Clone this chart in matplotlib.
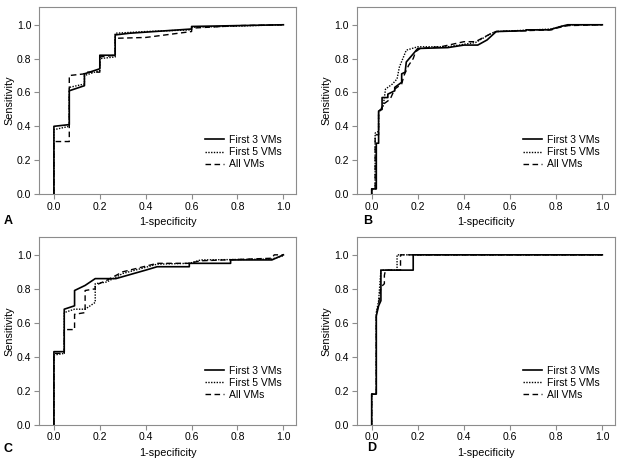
import numpy as np
import matplotlib
matplotlib.use("Agg")
import matplotlib.pyplot as plt

plt.rcParams['font.family'] = ['Liberation Sans', 'DejaVu Sans']

labels = ['First 3 VMs', 'First 5 VMs', 'All VMs']
panel_names = ['A', 'B', 'C', 'D']
xticks = [0.0, 0.2, 0.4, 0.6, 0.8, 1.0]
yticks = [0.0, 0.2, 0.4, 0.6, 0.8, 1.0]

# panel A  (1-specificity, sensitivity)
a3_x = [0, 0, 0.067, 0.067, 0.133, 0.133, 0.2, 0.2, 0.267, 0.267, 0.33, 0.6, 0.6, 0.8, 1]
a3_y = [0, 0.40, 0.41, 0.61, 0.64, 0.71, 0.74, 0.82, 0.82, 0.94, 0.95, 0.975, 0.99, 0.995, 1]
a5_x = [0, 0, 0.067, 0.067, 0.133, 0.133, 0.2, 0.2, 0.267, 0.267, 0.4, 0.6, 0.6, 1]
a5_y = [0, 0.38, 0.40, 0.63, 0.65, 0.70, 0.73, 0.80, 0.81, 0.95, 0.96, 0.97, 0.985, 1]
aa_x = [0, 0, 0.067, 0.067, 0.133, 0.133, 0.2, 0.2, 0.267, 0.267, 0.4, 0.6, 0.6, 0.8, 1]
aa_y = [0, 0.31, 0.31, 0.70, 0.71, 0.72, 0.72, 0.81, 0.82, 0.92, 0.925, 0.96, 0.98, 0.995, 1]

# panel B
b3_x = [0, 0, 0.02, 0.02, 0.03, 0.03, 0.045, 0.045, 0.07, 0.07, 0.1, 0.1, 0.13, 0.13, 0.145, 0.15,
        0.2, 0.33, 0.4, 0.46, 0.5, 0.54, 0.67, 0.67, 0.77, 0.82, 0.85, 1]
b3_y = [0, 0.03, 0.03, 0.30, 0.30, 0.49, 0.50, 0.57, 0.57, 0.59, 0.61, 0.63, 0.66, 0.71, 0.72, 0.78,
        0.86, 0.865, 0.88, 0.88, 0.91, 0.96, 0.965, 0.97, 0.97, 0.99, 1.0, 1]
b5_x = [0, 0, 0.015, 0.015, 0.03, 0.03, 0.05, 0.06, 0.09, 0.11, 0.12, 0.15, 0.2, 0.33, 0.45, 0.52,
        0.54, 0.78, 0.82, 0.87, 1]
b5_y = [0, 0.03, 0.03, 0.36, 0.37, 0.48, 0.52, 0.62, 0.65, 0.68, 0.75, 0.85, 0.87, 0.87, 0.895, 0.95,
        0.96, 0.975, 0.99, 1.0, 1]
ba_x = [0, 0, 0.015, 0.015, 0.03, 0.03, 0.04, 0.05, 0.08, 0.1, 0.13, 0.14, 0.16, 0.18, 0.19, 0.21,
        0.3, 0.4, 0.45, 0.52, 0.54, 0.78, 0.8, 0.85, 1]
ba_y = [0, 0.03, 0.03, 0.35, 0.35, 0.49, 0.50, 0.53, 0.56, 0.62, 0.65, 0.70, 0.76, 0.80, 0.84, 0.86,
        0.87, 0.90, 0.90, 0.95, 0.96, 0.97, 0.98, 0.995, 1]

# panel C
c3_x = [0, 0, 0.045, 0.045, 0.09, 0.09, 0.136, 0.18, 0.27, 0.4, 0.45, 0.59, 0.59, 0.77, 0.77, 0.95, 1]
c3_y = [0, 0.43, 0.43, 0.68, 0.70, 0.79, 0.82, 0.86, 0.86, 0.91, 0.93, 0.93, 0.95, 0.95, 0.97, 0.97, 1]
c5_x = [0, 0, 0.045, 0.045, 0.09, 0.136, 0.18, 0.18, 0.23, 0.3, 0.45, 0.59, 0.64, 0.95, 1]
c5_y = [0, 0.41, 0.42, 0.66, 0.68, 0.68, 0.72, 0.83, 0.84, 0.89, 0.945, 0.95, 0.97, 0.975, 0.995]
ca_x = [0, 0, 0.045, 0.045, 0.09, 0.09, 0.136, 0.136, 0.18, 0.18, 0.23, 0.3, 0.45, 0.59, 0.64, 0.95,
        0.96, 1]
ca_y = [0, 0.42, 0.42, 0.56, 0.56, 0.65, 0.66, 0.79, 0.80, 0.82, 0.85, 0.90, 0.95, 0.95, 0.965, 0.98,
        1.0, 1]

# panel D
d3_x = [0, 0, 0.02, 0.02, 0.03, 0.04, 0.04, 0.18, 0.18, 1]
d3_y = [0, 0.18, 0.18, 0.64, 0.70, 0.73, 0.91, 0.91, 1, 1]
d5_x = [0, 0, 0.02, 0.02, 0.03, 0.04, 0.11, 0.11, 1]
d5_y = [0, 0.18, 0.18, 0.66, 0.73, 0.91, 0.91, 1.0, 1]
da_x = [0, 0, 0.02, 0.02, 0.03, 0.04, 0.055, 0.055, 0.06, 0.125, 0.125, 1]
da_y = [0, 0.18, 0.18, 0.65, 0.71, 0.81, 0.83, 0.88, 0.91, 0.91, 1.0, 1]

panels = [
    [(a3_x, a3_y), (a5_x, a5_y), (aa_x, aa_y)],
    [(b3_x, b3_y), (b5_x, b5_y), (ba_x, ba_y)],
    [(c3_x, c3_y), (c5_x, c5_y), (ca_x, ca_y)],
    [(d3_x, d3_y), (d5_x, d5_y), (da_x, da_y)],
]

styles = [dict(ls='-', lw=1.2), dict(ls=(0, (1, 1)), lw=1.0), dict(ls=(0, (4, 2.5)), lw=1.0)]

fig = plt.figure(figsize=(6.21, 4.59), dpi=100)
boxes = [
    (39, 7, 296, 194), (356.7, 7, 615, 194),
    (39, 237, 296, 424.7), (356.7, 237, 615, 424.7),
]
letter_pos = [(8, 221), (368, 221), (8, 449), (372, 448)]
W, H = 621.0, 459.0
grey = '#8c8c8c'
fs = 7.5

for i, curves in enumerate(panels):
    l, t, r, b = boxes[i]
    ax = fig.add_axes([l / W, 1 - b / H, (r - l) / W, (b - t) / H])
    for (x, y), lab, st in zip(curves, labels, styles):
        ax.plot(x, y, color='black', label=lab, **st)
    ax.set_xlim(-0.065, 1.055)
    ax.set_ylim(0, 1.105)
    ax.set_xticks(xticks)
    ax.set_yticks(yticks)
    ax.set_xticklabels(['%.1f' % v for v in xticks])
    ax.set_yticklabels(['%.1f' % v for v in yticks])
    ax.tick_params(direction='out', length=3.5, width=0.8, color=grey, labelsize=fs, pad=2)
    for s in ax.spines.values():
        s.set_color(grey)
        s.set_linewidth(0.8)
    ax.set_xlabel('1-specificity', fontsize=fs + 0.3, labelpad=4)
    ax.set_ylabel('Sensitivity', fontsize=fs + 0.3, labelpad=2)
    ax.legend(loc='upper left', bbox_to_anchor=(0.645, 0.315), frameon=False, fontsize=fs,
              handlelength=1.8, handletextpad=0.5, labelspacing=0.2, borderpad=0,
              borderaxespad=0)
    lx, ly = letter_pos[i]
    fig.text(lx / W, 1 - ly / H, panel_names[i], fontsize=9, fontweight='bold',
             ha='center', va='center')

plt.savefig('out.png', dpi=100)
